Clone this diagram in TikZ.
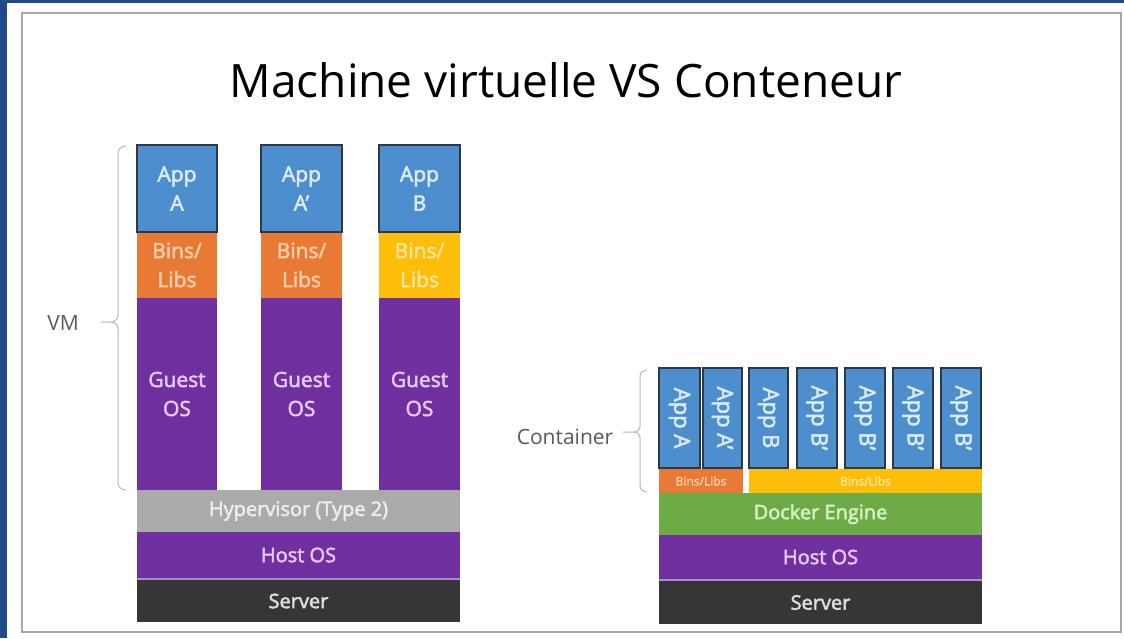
\documentclass[tikz,border=0pt]{standalone}
\usepackage{fontspec}
\setmainfont{Open Sans}
\newfontfamily\semib[FakeBold=2.5]{Open Sans}
\definecolor{frameblue}{HTML}{1F4A8C}
\definecolor{framegray}{HTML}{A4A8AA}
\definecolor{appblue}{HTML}{4D8ECE}
\definecolor{appedge}{HTML}{2A3848}
\definecolor{apptext}{HTML}{DCEBFA}
\definecolor{binorange}{HTML}{E97A36}
\definecolor{bintextorange}{HTML}{F9CDA8}
\definecolor{binyellow}{HTML}{FDBE0A}
\definecolor{bintextyellow}{HTML}{FFE59A}
\definecolor{ospurple}{HTML}{7030A0}
\definecolor{ostext}{HTML}{E6C9F7}
\definecolor{hypgray}{HTML}{AAAAAA}
\definecolor{hyptext}{HTML}{EDEDED}
\definecolor{servdark}{HTML}{363636}
\definecolor{servtext}{HTML}{DDDDDD}
\definecolor{dockgreen}{HTML}{6CAB45}
\definecolor{docktext}{HTML}{D6F2C4}
\definecolor{seplav}{HTML}{A98BC9}
\definecolor{labelgray}{HTML}{5A5A5A}
\definecolor{bracegray}{HTML}{B8B8B8}
\newcommand{\layerbox}[7]{\node[layer,#6,minimum width=#4pt,minimum height=#5pt] (#1) at ({#2+#4/2},{#3+#5/2}) {#7};}
\begin{document}
\begin{tikzpicture}[x=1pt,y=-1pt,
  layer/.style={inner sep=0pt, outer sep=0pt, align=center},
  vmtext/.style={font=\semib\fontsize{21}{29}\selectfont},
  bandtext/.style={font=\semib\fontsize{20}{22}\selectfont},
  app/.style={fill=appblue, draw=appedge, line width=1.6pt, text=apptext},
  bins/.style={fill=binorange, text=bintextorange},
  binsy/.style={fill=binyellow, text=bintextyellow},
  guest/.style={fill=ospurple, text=ostext},
  hyp/.style={fill=hypgray, text=hyptext, bandtext},
  host/.style={fill=ospurple, text=ostext, bandtext},
  serv/.style={fill=servdark, text=servtext, bandtext},
  dock/.style={fill=dockgreen, text=docktext, bandtext},
  capp/.style={fill=appblue, draw=appedge, line width=1.6pt},
  capptext/.style={text=apptext, rotate=-90, font=\semib\fontsize{22}{24}\selectfont},
  smallbins/.style={font=\semib\fontsize{12}{13}\selectfont},
  brace/.style={draw=bracegray, line width=1pt},
  lbl/.style={text=labelgray, font=\fontsize{21}{24}\selectfont}
]
\useasboundingbox (0,0) rectangle (1124,638);
\fill[white] (0,0) rectangle (1124,638);
\fill[frameblue] (0,0) rectangle (1124,3);
\fill[frameblue] (0,0) rectangle (7,638);
\draw[framegray, line width=1.6pt] (22,13) rectangle (1121,632);

\node[font=\fontsize{46}{54}\selectfont, text=black] (title) at (566,80) {Machine virtuelle VS Conteneur};

% ---------- VM stack ----------
\layerbox{g1}{137}{298}{80}{192}{guest,vmtext}{Guest\\OS}
\layerbox{g2}{261}{298}{81}{192}{guest,vmtext}{Guest\\OS}
\layerbox{g3}{379}{298}{81}{192}{guest,vmtext}{Guest\\OS}
\layerbox{b1}{137}{232}{80}{66}{bins,vmtext}{Bins/\\Libs}
\layerbox{b2}{261}{232}{81}{66}{bins,vmtext}{Bins/\\Libs}
\layerbox{b3}{379}{232}{81}{66}{binsy,vmtext}{Bins/\\Libs}
\layerbox{a1}{137}{145}{80}{87}{app,vmtext}{App\\A}
\layerbox{a2}{261}{145}{81}{87}{app,vmtext}{App\\A’}
\layerbox{a3}{379}{145}{81}{87}{app,vmtext}{App\\B}
\layerbox{hyp}{137}{490}{323}{42}{hyp}{Hypervisor (Type 2)}
\layerbox{vmhost}{137}{532}{323}{46}{host}{Host OS}
\fill[seplav] (137,578) rectangle (460,580);
\layerbox{vmserv}{137}{580}{323}{42}{serv}{Server}

% VM brace
\draw[brace] (126,146) to[out=180,in=90] (118,153) -- (118,315) to[out=-90,in=0] (111,322) -- (101,322);
\draw[brace] (111,322) to[out=0,in=90] (118,329) -- (118,483) to[out=-90,in=180] (126,490);
\node[lbl, anchor=center] (vmlbl) at (63,323) {VM};

% ---------- Container stack ----------
\layerbox{c1}{659}{368}{41}{100}{capp}{}
\layerbox{c2}{703}{368}{39}{100}{capp}{}
\layerbox{c3}{749}{368}{39}{100}{capp}{}
\layerbox{c4}{797}{368}{40}{100}{capp}{}
\layerbox{c5}{845}{368}{40}{100}{capp}{}
\layerbox{c6}{893}{368}{40}{100}{capp}{}
\layerbox{c7}{941}{368}{40}{100}{capp}{}
\node[capptext] at (c1) {App A};
\node[capptext] at (c2) {App A’};
\node[capptext] at (c3) {App B};
\node[capptext] at (c4) {App B’};
\node[capptext] at (c5) {App B’};
\node[capptext] at (c6) {App B’};
\node[capptext] at (c7) {App B’};
\layerbox{cb1}{659}{469}{84}{24}{bins,smallbins}{Bins/Libs}
\layerbox{cb2}{749}{469}{233}{24}{binsy,smallbins}{Bins/Libs}
\layerbox{dock}{659}{493}{323}{42}{dock}{Docker Engine}
\layerbox{chost}{659}{535}{323}{44}{host}{Host OS}
\fill[seplav] (659,579) rectangle (982,581);
\layerbox{cserv}{659}{581}{323}{43}{serv}{Server}

% Container brace
\draw[brace] (647,370) to[out=180,in=90] (640,376) -- (640,426) to[out=-90,in=0] (634,432) -- (623,432);
\draw[brace] (634,432) to[out=0,in=90] (640,438) -- (640,486) to[out=-90,in=180] (647,492);
\node[lbl, anchor=center] (clbl) at (565,437) {Container};
\end{tikzpicture}
\end{document}
